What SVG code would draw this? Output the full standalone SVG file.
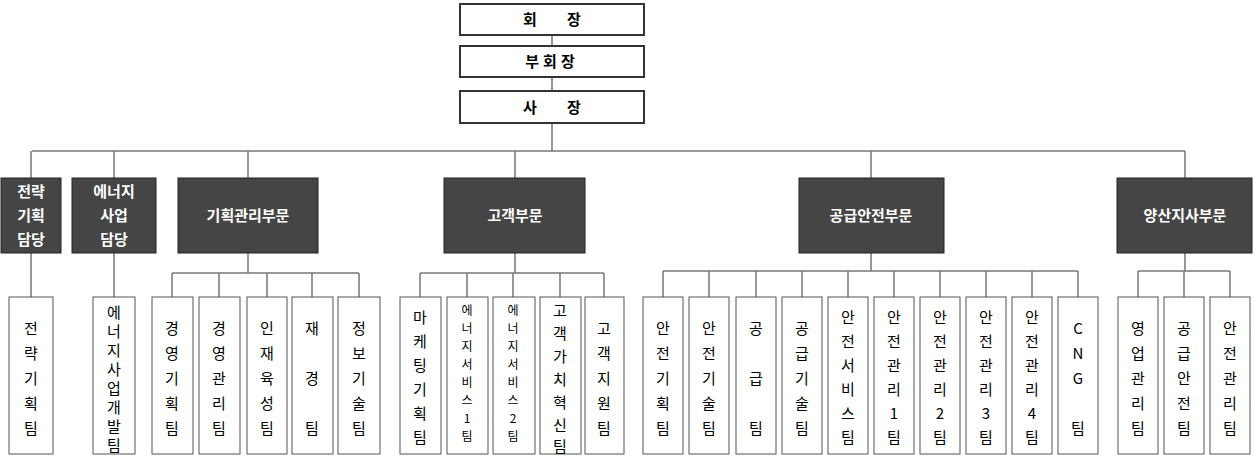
<svg xmlns="http://www.w3.org/2000/svg" width="1259" height="464" viewBox="0 0 1259 464">
<style>
.top{fill:#fff;stroke:#333;stroke-width:2}
.dk{fill:#454545;stroke:#222;stroke-width:1}
.lf{fill:#fff;stroke:#555;stroke-width:1}
.t{font-family:"Noto Sans CJK KR",sans-serif;font-weight:bold;font-size:15px;text-anchor:middle;fill:#000}
.w{font-family:"Noto Sans CJK KR",sans-serif;font-weight:bold;font-size:15px;text-anchor:middle;fill:#fff}
.v{font-family:"Noto Sans CJK KR",sans-serif;font-size:15px;text-anchor:middle;fill:#000}
.s{font-size:12px}
.c{stroke:#777;stroke-width:1.5;fill:none}
</style>
<rect width="1259" height="464" fill="#fff"/>
<g id="connectors" class="c">
<path d="M552 35V45M552 77V91M552 124V151M32 151H1185M31 151V178M114 151V178M248 151V178M515 151V178M871 151V178M1185 151V178"/>
<path d="M31 253V297M114 253V297"/>
<path d="M248 253V273M172 273H359M172 273V297M219 273V297M267 273V297M312 273V297M359 273V297"/>
<path d="M515 253V273M420 273H604M420 273V297M467 273V297M513 273V297M560 273V297M604 273V297"/>
<path d="M871 253V271M663 271H1078M663 271V297M709 271V297M756 271V297M802 271V297M848 271V297M894 271V297M940 271V297M986 271V297M1032 271V297M1078 271V297"/>
<path d="M1185 253V271M1138 271H1230M1138 271V297M1184 271V297M1230 271V297"/>
</g>
<g id="n-chair"><rect class="top" x="460" y="4" width="184" height="31"/><text class="t" x="530" y="25">회</text><text class="t" x="574" y="25">장</text></g>
<g id="n-vice"><rect class="top" x="460" y="46" width="184" height="31"/><text class="t" x="552" y="67" letter-spacing="4">부회장</text></g>
<g id="n-pres"><rect class="top" x="460" y="91" width="184" height="32"/><text class="t" x="530" y="113">사</text><text class="t" x="574" y="113">장</text></g>

<g id="n-strat"><rect class="dk" x="1" y="178" width="60" height="75"/><text class="w" x="31" y="197">전략</text><text class="w" x="31" y="221">기획</text><text class="w" x="31" y="245">담당</text></g>
<g id="n-energy"><rect class="dk" x="72" y="178" width="84" height="75"/><text class="w" x="114" y="197">에너지</text><text class="w" x="114" y="221">사업</text><text class="w" x="114" y="245">담당</text></g>
<g id="n-plan"><rect class="dk" x="178" y="178" width="140" height="75"/><text class="w" x="248" y="221">기획관리부문</text></g>
<g id="n-cust"><rect class="dk" x="444" y="178" width="141" height="75"/><text class="w" x="515" y="221">고객부문</text></g>
<g id="n-supply"><rect class="dk" x="799" y="178" width="145" height="75"/><text class="w" x="871" y="221">공급안전부문</text></g>
<g id="n-yang"><rect class="dk" x="1117" y="178" width="135" height="75"/><text class="w" x="1185" y="221">양산지사부문</text></g>

<g id="n-l1"><rect class="lf" x="9" y="297" width="44" height="157"/><text class="v" x="31"><tspan x="31" y="334">전</tspan><tspan x="31" y="359">략</tspan><tspan x="31" y="384">기</tspan><tspan x="31" y="409">획</tspan><tspan x="31" y="434">팀</tspan></text></g>
<g id="n-l2"><rect class="lf" x="93" y="297" width="42" height="157" stroke="#cc9"/><text class="v"><tspan x="114" y="318">에</tspan><tspan x="114" y="337">너</tspan><tspan x="114" y="356">지</tspan><tspan x="114" y="375">사</tspan><tspan x="114" y="394">업</tspan><tspan x="114" y="413">개</tspan><tspan x="114" y="432">발</tspan><tspan x="114" y="451">팀</tspan></text></g>
<g id="n-l3"><rect class="lf" x="152" y="297" width="41" height="157"/><text class="v"><tspan x="172" y="334">경</tspan><tspan x="172" y="359">영</tspan><tspan x="172" y="384">기</tspan><tspan x="172" y="409">획</tspan><tspan x="172" y="434">팀</tspan></text></g>
<g id="n-l4"><rect class="lf" x="199" y="297" width="41" height="157"/><text class="v"><tspan x="219" y="334">경</tspan><tspan x="219" y="359">영</tspan><tspan x="219" y="384">관</tspan><tspan x="219" y="409">리</tspan><tspan x="219" y="434">팀</tspan></text></g>
<g id="n-l5"><rect class="lf" x="247" y="297" width="40" height="157"/><text class="v"><tspan x="267" y="334">인</tspan><tspan x="267" y="359">재</tspan><tspan x="267" y="384">육</tspan><tspan x="267" y="409">성</tspan><tspan x="267" y="434">팀</tspan></text></g>
<g id="n-l6"><rect class="lf" x="292" y="297" width="41" height="157"/><text class="v"><tspan x="312" y="334">재</tspan><tspan x="312" y="384">경</tspan><tspan x="312" y="434">팀</tspan></text></g>
<g id="n-l7"><rect class="lf" x="338" y="297" width="42" height="157"/><text class="v"><tspan x="359" y="334">정</tspan><tspan x="359" y="359">보</tspan><tspan x="359" y="384">기</tspan><tspan x="359" y="409">술</tspan><tspan x="359" y="434">팀</tspan></text></g>

<g id="n-l8"><rect class="lf" x="400" y="297" width="41" height="157"/><text class="v"><tspan x="420" y="323">마</tspan><tspan x="420" y="347">케</tspan><tspan x="420" y="371">팅</tspan><tspan x="420" y="395">기</tspan><tspan x="420" y="419">획</tspan><tspan x="420" y="443">팀</tspan></text></g>
<g id="n-l9"><rect class="lf" x="447" y="297" width="41" height="157"/><text class="v s"><tspan x="467" y="315">에</tspan><tspan x="467" y="333">너</tspan><tspan x="467" y="351">지</tspan><tspan x="467" y="369">서</tspan><tspan x="467" y="387">비</tspan><tspan x="467" y="405">스</tspan><tspan x="467" y="423">1</tspan><tspan x="467" y="441">팀</tspan></text></g>
<g id="n-l10"><rect class="lf" x="493" y="297" width="42" height="157"/><text class="v s"><tspan x="513" y="315">에</tspan><tspan x="513" y="333">너</tspan><tspan x="513" y="351">지</tspan><tspan x="513" y="369">서</tspan><tspan x="513" y="387">비</tspan><tspan x="513" y="405">스</tspan><tspan x="513" y="423">2</tspan><tspan x="513" y="441">팀</tspan></text></g>
<g id="n-l11"><rect class="lf" x="540" y="297" width="41" height="157"/><text class="v"><tspan x="560" y="316">고</tspan><tspan x="560" y="339">객</tspan><tspan x="560" y="362">가</tspan><tspan x="560" y="385">치</tspan><tspan x="560" y="408">혁</tspan><tspan x="560" y="431">신</tspan><tspan x="560" y="452">팀</tspan></text></g>
<g id="n-l12"><rect class="lf" x="585" y="297" width="39" height="157"/><text class="v"><tspan x="604" y="334">고</tspan><tspan x="604" y="359">객</tspan><tspan x="604" y="384">지</tspan><tspan x="604" y="409">원</tspan><tspan x="604" y="434">팀</tspan></text></g>

<g id="n-r1"><rect class="lf" x="643" y="297" width="40" height="157"/><text class="v"><tspan x="663" y="334">안</tspan><tspan x="663" y="359">전</tspan><tspan x="663" y="384">기</tspan><tspan x="663" y="409">획</tspan><tspan x="663" y="434">팀</tspan></text></g>
<g id="n-r2"><rect class="lf" x="689" y="297" width="40" height="157"/><text class="v"><tspan x="709" y="334">안</tspan><tspan x="709" y="359">전</tspan><tspan x="709" y="384">기</tspan><tspan x="709" y="409">술</tspan><tspan x="709" y="434">팀</tspan></text></g>
<g id="n-r3"><rect class="lf" x="736" y="297" width="40" height="157"/><text class="v"><tspan x="756" y="334">공</tspan><tspan x="756" y="384">급</tspan><tspan x="756" y="434">팀</tspan></text></g>
<g id="n-r4"><rect class="lf" x="782" y="297" width="40" height="157"/><text class="v"><tspan x="802" y="334">공</tspan><tspan x="802" y="359">급</tspan><tspan x="802" y="384">기</tspan><tspan x="802" y="409">술</tspan><tspan x="802" y="434">팀</tspan></text></g>
<g id="n-r5"><rect class="lf" x="828" y="297" width="40" height="157"/><text class="v"><tspan x="848" y="323">안</tspan><tspan x="848" y="347">전</tspan><tspan x="848" y="371">서</tspan><tspan x="848" y="395">비</tspan><tspan x="848" y="419">스</tspan><tspan x="848" y="443">팀</tspan></text></g>
<g id="n-r6"><rect class="lf" x="874" y="297" width="40" height="157"/><text class="v"><tspan x="894" y="323">안</tspan><tspan x="894" y="347">전</tspan><tspan x="894" y="371">관</tspan><tspan x="894" y="395">리</tspan><tspan x="894" y="419">1</tspan><tspan x="894" y="443">팀</tspan></text></g>
<g id="n-r7"><rect class="lf" x="920" y="297" width="40" height="157"/><text class="v"><tspan x="940" y="323">안</tspan><tspan x="940" y="347">전</tspan><tspan x="940" y="371">관</tspan><tspan x="940" y="395">리</tspan><tspan x="940" y="419">2</tspan><tspan x="940" y="443">팀</tspan></text></g>
<g id="n-r8"><rect class="lf" x="966" y="297" width="40" height="157"/><text class="v"><tspan x="986" y="323">안</tspan><tspan x="986" y="347">전</tspan><tspan x="986" y="371">관</tspan><tspan x="986" y="395">리</tspan><tspan x="986" y="419">3</tspan><tspan x="986" y="443">팀</tspan></text></g>
<g id="n-r9"><rect class="lf" x="1012" y="297" width="40" height="157"/><text class="v"><tspan x="1032" y="323">안</tspan><tspan x="1032" y="347">전</tspan><tspan x="1032" y="371">관</tspan><tspan x="1032" y="395">리</tspan><tspan x="1032" y="419">4</tspan><tspan x="1032" y="443">팀</tspan></text></g>
<g id="n-r10"><rect class="lf" x="1058" y="297" width="40" height="157"/><text class="v"><tspan x="1078" y="334">C</tspan><tspan x="1078" y="359">N</tspan><tspan x="1078" y="384">G</tspan><tspan x="1078" y="434">팀</tspan></text></g>

<g id="n-y1"><rect class="lf" x="1118" y="297" width="40" height="157"/><text class="v"><tspan x="1138" y="334">영</tspan><tspan x="1138" y="359">업</tspan><tspan x="1138" y="384">관</tspan><tspan x="1138" y="409">리</tspan><tspan x="1138" y="434">팀</tspan></text></g>
<g id="n-y2"><rect class="lf" x="1164" y="297" width="40" height="157"/><text class="v"><tspan x="1184" y="334">공</tspan><tspan x="1184" y="359">급</tspan><tspan x="1184" y="384">안</tspan><tspan x="1184" y="409">전</tspan><tspan x="1184" y="434">팀</tspan></text></g>
<g id="n-y3"><rect class="lf" x="1210" y="297" width="40" height="157"/><text class="v"><tspan x="1230" y="334">안</tspan><tspan x="1230" y="359">전</tspan><tspan x="1230" y="384">관</tspan><tspan x="1230" y="409">리</tspan><tspan x="1230" y="434">팀</tspan></text></g>
</svg>
